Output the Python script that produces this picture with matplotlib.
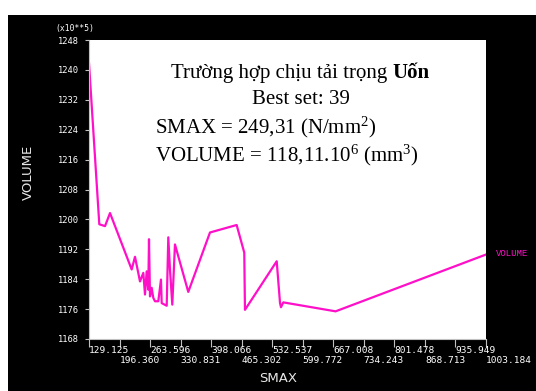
import matplotlib
matplotlib.use("Agg")
import matplotlib.pyplot as plt

plt.rcParams['mathtext.fontset'] = 'custom'
plt.rcParams['mathtext.rm'] = 'Liberation Serif'
plt.rcParams['mathtext.it'] = 'Liberation Serif'

# SMAX (N/mm2) vs VOLUME (x10**5 mm3)
smax = [129.125, 151.8, 164.4, 175.4, 223.1, 230.4, 241.4, 248.7, 252.4, 256.1,
        259.7, 261.2, 263.4, 267.1, 270.7, 274.4, 281.7, 287.6, 289.2, 300.2,
        303.7, 307.4, 312.5, 318.4, 347.7, 395.5, 454.2, 471.0, 472.5, 542.4,
        549.7, 551.8, 556.9, 672.0, 1003.184]
volume = [1241.8, 1198.7, 1198.2, 1201.7, 1186.6, 1190.0, 1183.4, 1185.7, 1179.9, 1186.1,
          1181.2, 1194.7, 1179.4, 1181.7, 1179.0, 1178.1, 1178.1, 1183.9, 1177.6, 1176.9,
          1195.2, 1186.6, 1177.2, 1193.3, 1180.6, 1196.5, 1198.5, 1191.1, 1175.8, 1188.8,
          1177.6, 1176.5, 1177.8, 1175.4, 1190.6]

xticks = [129.125, 196.360, 263.596, 330.831, 398.066, 465.302, 532.537,
          599.772, 667.008, 734.243, 801.478, 868.713, 935.949, 1003.184]
xlabels = ["129.125", "196.360", "263.596", "330.831", "398.066", "465.302", "532.537",
           "599.772", "667.008", "734.243", "801.478", "868.713", "935.949", "1003.184"]
yticks = [1168, 1176, 1184, 1192, 1200, 1208, 1216, 1224, 1232, 1240, 1248]

W, H = 536, 391
fig = plt.figure(figsize=(W / 100, H / 100), dpi=100)
fig.patch.set_facecolor('white')

# black panel behind everything
bg = fig.add_axes([8 / W, 0, (W - 8) / W, (H - 15) / H])
bg.set_facecolor('black')
bg.set_xticks([])
bg.set_yticks([])
for s in bg.spines.values():
    s.set_visible(False)

ax = fig.add_axes([89 / W, (H - 339) / H, (486 - 89) / W, (339 - 40) / H])
ax.set_facecolor('white')
ax.plot(smax, volume, color='#ff10c8', lw=1.6)
ax.set_xlim(xticks[0], xticks[-1])
ax.set_ylim(1168, 1248)

ax.set_yticks(yticks)
ax.set_yticklabels([str(v) for v in yticks], family='DejaVu Sans Mono',
                   fontsize=6.3, color='white')
ax.set_xticks(xticks)
ax.set_xticklabels([])
ax.tick_params(axis='y', length=3, width=0.8, color='#c0c0c0', pad=4)
ax.tick_params(axis='x', length=6, width=0.8, color='#c0c0c0')
for s in ['top', 'right']:
    ax.spines[s].set_visible(False)
for s in ['left', 'bottom']:
    ax.spines[s].set_color('#c0c0c0')
    ax.spines[s].set_linewidth(0.8)

# staggered x tick labels, left aligned on the tick
for i, (v, lab) in enumerate(zip(xticks, xlabels)):
    yoff = -0.037 if i % 2 == 0 else -0.073
    ax.text(v, yoff, lab, transform=ax.get_xaxis_transform(), ha='left', va='center',
            family='DejaVu Sans Mono', fontsize=6.8, color='white')

fig.text(75 / W, 1 - 28 / H, "(x10**5)", ha='center', va='center',
         family='DejaVu Sans Mono', fontsize=5.8, color='white')
fig.text(28 / W, 1 - 172 / H, "VOLUME", rotation=90, ha='center', va='center',
         fontsize=9.5, color='#e8e8e8')
fig.text(278 / W, 1 - 379 / H, "SMAX", ha='center', va='center',
         fontsize=9.5, color='#e8e8e8')
fig.text(512 / W, 1 - 253 / H, "VOLUME", ha='center', va='center',
         family='Liberation Mono', fontsize=6.5, color='#ff10c8')

# annotation block
serif = 'Liberation Serif'
fs = 15
t1 = fig.text(171 / W, 1 - 78 / H, "Trường hợp chịu tải trọng", ha='left', va='baseline',
              family=serif, fontsize=fs)
fig.canvas.draw()
bb = t1.get_window_extent()
fig.text((bb.x1 + 5) / W, 1 - 78 / H, "Uốn", ha='left', va='baseline',
         family=serif, fontsize=fs, weight='bold')
fig.text(301 / W, 1 - 100 / H, "Best set: 39", ha='center', va='center',
         family=serif, fontsize=fs)
fig.text(155 / W, 1 - 127 / H, r"SMAX = 249,31 (N/mm$^{2}$)", ha='left', va='center',
         family=serif, fontsize=fs)
fig.text(155 / W, 1 - 155 / H, r"VOLUME = 118,11.10$^{6}$ (mm$^{3}$)", ha='left', va='center',
         family=serif, fontsize=fs)

fig.savefig("out.png", dpi=100, facecolor=fig.get_facecolor())
